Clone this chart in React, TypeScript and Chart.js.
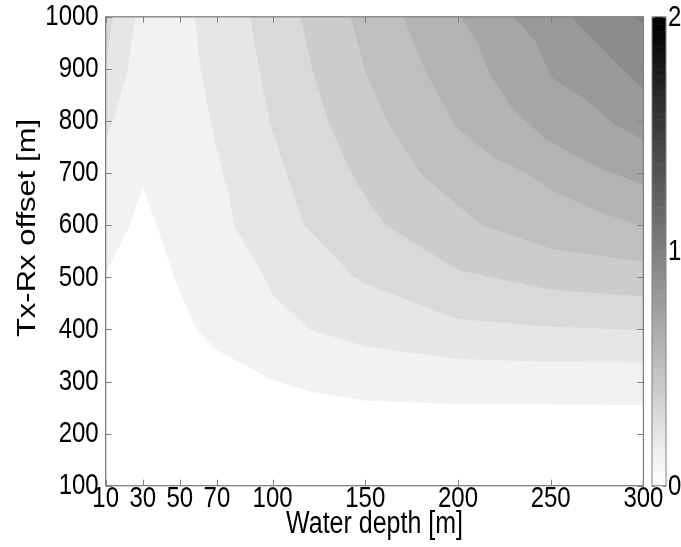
import React, { useEffect, useRef } from 'react';
import { Chart, registerables } from 'chart.js';

Chart.register(...registerables);

// Axis ticks
const depthTicks = [10, 30, 50, 70, 100, 150, 200, 250, 300];
const offsetTicks = [100, 200, 300, 400, 500, 600, 700, 800, 900, 1000];
const colorbarTicks = [0, 1, 2];

// Contour levels of the filled map (colour scale runs 0..2)
const levels = [0.1, 0.2, 0.3, 0.4, 0.5, 0.6, 0.7, 0.8, 0.9, 1.0];

// Contour lines as [water depth, offset] pairs; the region above each line is >= its level
const contour01: [number, number][] = [
  [10, 508], [23, 600], [30, 674], [37.5, 600], [47, 500], [50, 472], [59, 400],
  [70, 360], [100, 303], [120, 281], [150, 263], [200, 257], [250, 256], [300, 255],
];
const contour02Left: [number, number][] = [[10, 762], [14, 800], [22, 900], [26, 1000]];
const contour02: [number, number][] = [
  [58, 1000], [61, 904], [66, 808], [70, 744], [77, 648], [79, 600], [95.6, 500],
  [100, 466], [120, 400], [150, 367], [200, 343], [250, 338], [300, 336],
];
const contour03Left: [number, number][] = [[10, 910], [14, 1000]];
const contour03: [number, number][] = [
  [88, 1000], [92.7, 900], [98.3, 800], [100, 782], [107.5, 700], [117.2, 600],
  [144, 500], [150, 487], [200, 420], [250, 405], [300, 399],
];
const contour04: [number, number][] = [
  [115, 1000], [121.5, 900], [130, 800], [142.5, 700], [150, 655], [161, 600],
  [200, 514], [250, 476], [300, 463],
];
const contour05: [number, number][] = [
  [142, 1000], [150, 895], [161.7, 800], [179.5, 700], [200, 638], [213, 600],
  [250, 555], [300, 530],
];
const contour06: [number, number][] = [
  [170.5, 1000], [182, 900], [197, 800], [200, 786], [219, 730], [237, 700],
  [250, 668], [278, 623], [300, 598],
];
const contour07: [number, number][] = [
  [201, 1000], [210, 955], [217, 891], [230, 821], [248, 763], [275, 712], [300, 677],
];
const contour08: [number, number][] = [
  [230, 1000], [242.5, 949], [250, 884], [269.4, 840], [283.8, 795], [300, 763],
];
const contour09: [number, number][] = [[261, 1000], [275, 949], [287.4, 904], [300, 862]];
const contour10: [number, number][] = [[295.5, 1000], [300, 985]];

const regions: { level: number; path: [number, number][] }[] = [
  { level: levels[0], path: contour01 },
  { level: levels[1], path: contour02Left },
  { level: levels[1], path: contour02 },
  { level: levels[2], path: contour03Left },
  { level: levels[2], path: contour03 },
  { level: levels[3], path: contour04 },
  { level: levels[4], path: contour05 },
  { level: levels[5], path: contour06 },
  { level: levels[6], path: contour07 },
  { level: levels[7], path: contour08 },
  { level: levels[8], path: contour09 },
  { level: levels[9], path: contour10 },
];

const X_MIN = 10;
const X_MAX = 300;
const Y_MIN = 100;
const Y_MAX = 1000;
const C_MIN = 0;
const C_MAX = 2;

const FONT = '"Liberation Sans", Arial, Helvetica, sans-serif';
const FRAME = '#808080';
const TEXT_STRETCH = 1.24; // glyphs are drawn taller than wide

// reversed gray colormap: 0 -> white, 2 -> black
const grayAt = (v: number) => {
  const g = Math.round(255 * (1 - (v - C_MIN) / (C_MAX - C_MIN)));
  return `rgb(${g},${g},${g})`;
};

// close a contour line into the region lying above/right of it
const closeRegion = (path: [number, number][]) => {
  const pts = path.map(([x, y]) => ({ x, y }));
  const first = path[0];
  const last = path[path.length - 1];
  if (last[0] === X_MAX) pts.push({ x: X_MAX, y: Y_MAX });
  if (first[0] === X_MIN && first[1] < Y_MAX) pts.push({ x: X_MIN, y: Y_MAX });
  return pts;
};

// horizontal text, stretched vertically about its centre
const drawLabel = (
  ctx: CanvasRenderingContext2D,
  text: string,
  x: number,
  y: number,
  align: CanvasTextAlign,
  size: number,
) => {
  ctx.save();
  ctx.translate(x, y);
  ctx.scale(1, TEXT_STRETCH);
  ctx.font = `${size}px ${FONT}`;
  ctx.textAlign = align;
  ctx.textBaseline = 'middle';
  ctx.fillStyle = '#000';
  ctx.fillText(text, 0, 0);
  ctx.restore();
};

const decorations = {
  id: 'decorations',
  afterDatasetsDraw(chart: any) {
    const { ctx, chartArea: a, scales } = chart;
    const xs = scales.x;
    const ys = scales.y;
    ctx.save();
    // inward ticks on all four sides
    const tl = 6;
    ctx.strokeStyle = FRAME;
    ctx.lineWidth = 1;
    ctx.beginPath();
    depthTicks.forEach((v) => {
      const px = Math.round(xs.getPixelForValue(v)) + 0.5;
      ctx.moveTo(px, a.bottom);
      ctx.lineTo(px, a.bottom - tl);
      ctx.moveTo(px, a.top);
      ctx.lineTo(px, a.top + tl);
    });
    offsetTicks.forEach((v) => {
      const py = Math.round(ys.getPixelForValue(v)) + 0.5;
      ctx.moveTo(a.left, py);
      ctx.lineTo(a.left + tl, py);
      ctx.moveTo(a.right, py);
      ctx.lineTo(a.right - tl, py);
    });
    ctx.stroke();
    // axes box
    ctx.lineWidth = 1.3;
    ctx.strokeRect(a.left, a.top, a.right - a.left, a.bottom - a.top);
    ctx.restore();
  },
  afterDraw(chart: any) {
    const { ctx, chartArea: a, scales } = chart;
    const xs = scales.x;
    const ys = scales.y;
    ctx.save();

    // tick labels
    offsetTicks.forEach((v) => drawLabel(ctx, String(v), a.left - 7, ys.getPixelForValue(v), 'right', 24));
    depthTicks.forEach((v) => drawLabel(ctx, String(v), xs.getPixelForValue(v), a.bottom + 13, 'center', 24));

    // colour bar
    const cbLeft = a.right + 8.6;
    const cbWidth = 14;
    const cbTop = a.top;
    const cbBottom = a.bottom;
    const steps = 64;
    const h = (cbBottom - cbTop) / steps;
    for (let i = 0; i < steps; i++) {
      const v = C_MIN + ((C_MAX - C_MIN) * i) / (steps - 1);
      ctx.fillStyle = grayAt(v);
      ctx.fillRect(cbLeft, cbBottom - (i + 1) * h, cbWidth, h + 0.5);
    }
    ctx.strokeStyle = FRAME;
    ctx.lineWidth = 1;
    ctx.strokeRect(cbLeft, cbTop, cbWidth, cbBottom - cbTop);
    const cbPix = (v: number) => cbBottom - ((v - C_MIN) / (C_MAX - C_MIN)) * (cbBottom - cbTop);
    ctx.beginPath();
    colorbarTicks.forEach((v) => {
      const py = Math.round(cbPix(v)) + 0.5;
      ctx.moveTo(cbLeft, py);
      ctx.lineTo(cbLeft + 3, py);
      ctx.moveTo(cbLeft + cbWidth, py);
      ctx.lineTo(cbLeft + cbWidth - 3, py);
    });
    ctx.stroke();
    colorbarTicks.forEach((v) => drawLabel(ctx, String(v), cbLeft + cbWidth + 2, cbPix(v) + 1, 'left', 24));

    // axis titles
    drawLabel(ctx, 'Water depth [m]', (a.left + a.right) / 2, 524, 'center', 25);

    ctx.save();
    ctx.translate(28, 228);
    ctx.rotate(-Math.PI / 2);
    ctx.scale(TEXT_STRETCH, 1);
    ctx.font = `25px ${FONT}`;
    ctx.textAlign = 'center';
    ctx.textBaseline = 'middle';
    ctx.fillStyle = '#000';
    ctx.fillText('Tx-Rx offset [m]', 0, 0);
    ctx.restore();

    ctx.restore();
  },
};

export default function App() {
  const canvasRef = useRef<HTMLCanvasElement | null>(null);

  useEffect(() => {
    document.body.style.margin = '0';
    const canvas = canvasRef.current;
    if (!canvas) return;

    const datasets = regions.map((r) => ({
      data: closeRegion(r.path),
      showLine: true,
      fill: 'shape' as const,
      backgroundColor: grayAt(r.level),
      borderColor: 'transparent',
      borderWidth: 0,
      pointRadius: 0,
      pointHoverRadius: 0,
      tension: 0,
      order: Math.round((1 - r.level) * 100),
    }));

    const chart = new Chart(canvas, {
      type: 'scatter',
      data: { datasets },
      options: {
        animation: false,
        responsive: false,
        events: [],
        layout: { padding: { top: 16.8, right: 37.6, left: 0, bottom: 0 } },
        plugins: {
          legend: { display: false },
          tooltip: { enabled: false },
        },
        scales: {
          x: {
            type: 'linear',
            min: X_MIN,
            max: X_MAX,
            grid: { display: false, drawTicks: false },
            border: { display: false },
            afterBuildTicks: (s: any) => {
              s.ticks = depthTicks.map((value) => ({ value }));
            },
            afterFit: (s: any) => {
              s.height = 61.3;
            },
            ticks: { display: false },
          },
          y: {
            type: 'linear',
            min: Y_MIN,
            max: Y_MAX,
            grid: { display: false, drawTicks: false },
            border: { display: false },
            afterBuildTicks: (s: any) => {
              s.ticks = offsetTicks.map((value) => ({ value }));
            },
            afterFit: (s: any) => {
              s.width = 105.7;
            },
            ticks: { display: false },
          },
        },
      },
      plugins: [decorations],
    });

    return () => chart.destroy();
  }, []);

  return (
    <div style={{ width: 681, height: 547, background: '#fff' }}>
      <canvas ref={canvasRef} width={681} height={547} style={{ display: 'block' }} />
    </div>
  );
}
